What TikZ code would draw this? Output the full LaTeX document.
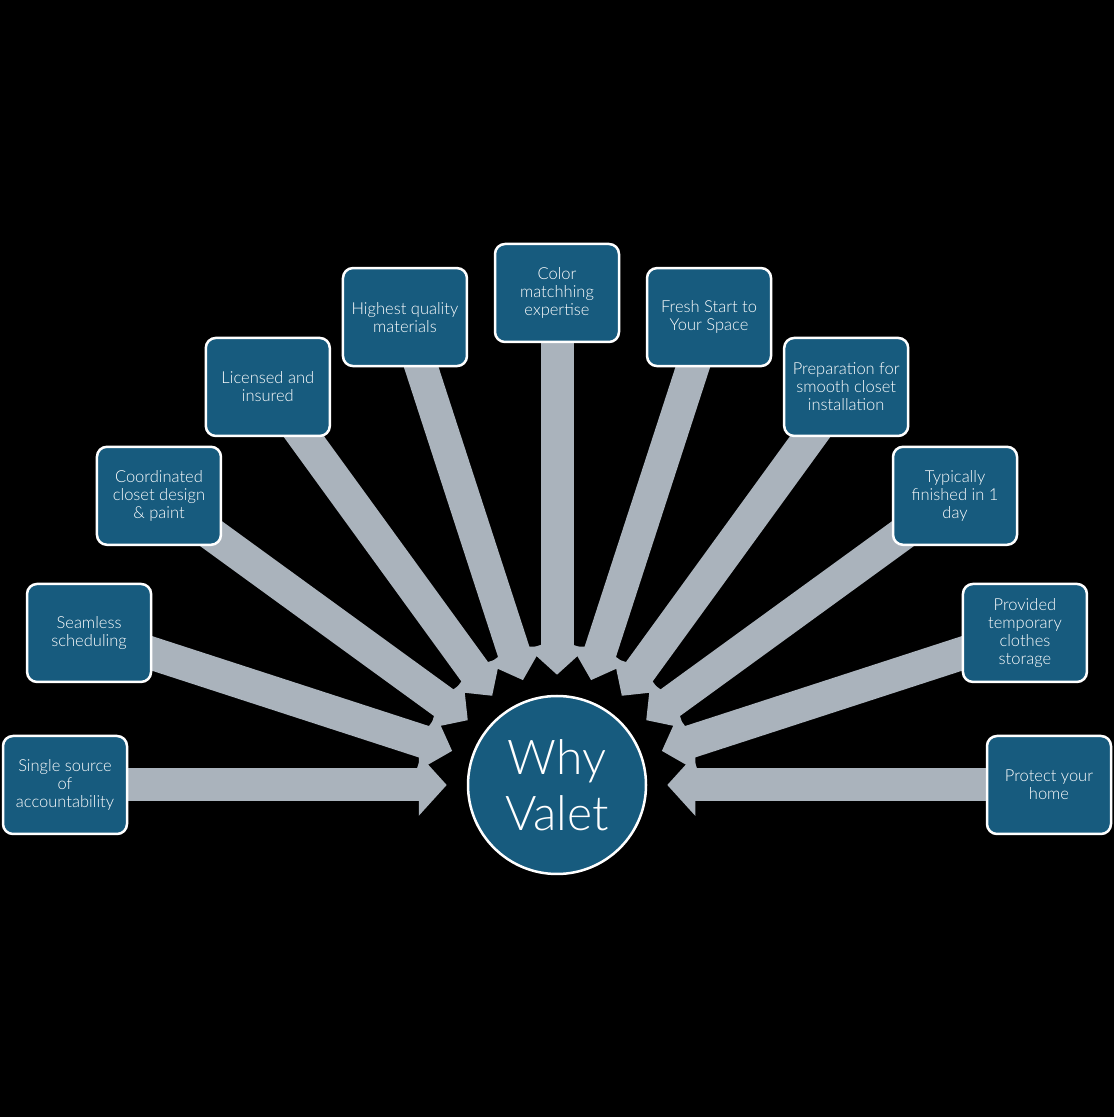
\documentclass[tikz,border=0pt]{standalone}
\usepackage{fontspec}
\setmainfont{Lato}[UprightFont=* Light]
\usetikzlibrary{arrows.meta,backgrounds}
\definecolor{valetblue}{RGB}{23,91,126}
\definecolor{arrowgray}{RGB}{170,179,188}
\tikzset{
        treenode/.style={align=center,inner sep=2pt,text=white,fill=valetblue,draw=white,line width=2.5pt},
        % Reason boxes
        node_reason/.style={treenode, rectangle, rounded corners=10pt, minimum width=124pt, minimum height=98pt, font=\fontsize{16.5}{18}\selectfont},
        % Centre circle
        node_hub/.style={treenode, circle, inner sep=0pt, minimum size=178pt, font=\fontsize{48}{56}\selectfont},
        % Block arrows
        block_arrow/.style={draw=arrowgray, line width=33pt, -{Triangle[width=60pt,length=28pt]}, shorten >=20pt}
}
\begin{document}
\begin{tikzpicture}[x=1pt, y=1pt]
    \useasboundingbox (0,0) rectangle (1114,1117);
    \node[node_hub] (why) at (557,332) {Why\\Valet};
    \node[node_reason] (single) at ([shift={(180:492)}]why) {Single source\\of\\accountability};
    \node[node_reason] (seamless) at ([shift={(162:492)}]why) {Seamless\\scheduling};
    \node[node_reason] (design) at ([shift={(144:492)}]why) {Coordinated\\closet design\\\& paint};
    \node[node_reason] (licensed) at ([shift={(126:492)}]why) {Licensed and\\insured};
    \node[node_reason] (quality) at ([shift={(108:492)}]why) {Highest quality\\materials};
    \node[node_reason] (color) at ([shift={(90:492)}]why) {Color\\matchhing\\expertise};
    \node[node_reason] (fresh) at ([shift={(72:492)}]why) {Fresh Start to\\Your Space};
    \node[node_reason] (prep) at ([shift={(54:492)}]why) {Preparation for\\smooth closet\\installation};
    \node[node_reason] (oneday) at ([shift={(36:492)}]why) {Typically\\finished in 1\\day};
    \node[node_reason] (storage) at ([shift={(18:492)}]why) {Provided\\temporary\\clothes\\storage};
    \node[node_reason] (protect) at ([shift={(0:492)}]why) {Protect your\\home};
    \begin{scope}[on background layer]
        \fill[black] (0,0) rectangle (1114,1117);
        \draw[block_arrow] (single.center) -- (why);
        \draw[block_arrow] (seamless.center) -- (why);
        \draw[block_arrow] (design.center) -- (why);
        \draw[block_arrow] (licensed.center) -- (why);
        \draw[block_arrow] (quality.center) -- (why);
        \draw[block_arrow] (color.center) -- (why);
        \draw[block_arrow] (fresh.center) -- (why);
        \draw[block_arrow] (prep.center) -- (why);
        \draw[block_arrow] (oneday.center) -- (why);
        \draw[block_arrow] (storage.center) -- (why);
        \draw[block_arrow] (protect.center) -- (why);
    \end{scope}
\end{tikzpicture}
\end{document}
